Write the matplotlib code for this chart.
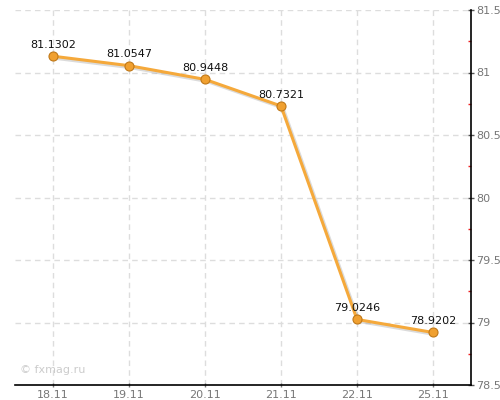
import matplotlib
matplotlib.use("Agg")
import matplotlib.pyplot as plt
import matplotlib.patheffects as pe
from matplotlib.ticker import MultipleLocator

dates = ["18.11", "19.11", "20.11", "21.11", "22.11", "25.11"]
values = [81.1302, 81.0547, 80.9448, 80.7321, 79.0246, 78.9202]
labels = ["81.1302", "81.0547", "80.9448", "80.7321", "79.0246", "78.9202"]

fig = plt.figure(figsize=(5, 4), dpi=100)
ax = fig.add_axes([0.03, 0.0375, 0.912, 0.9375])

x = list(range(len(dates)))
line_color = "#F5A93B"
ax.plot(x, values, color=line_color, lw=2.2, zorder=3,
        path_effects=[pe.SimpleLineShadow(offset=(1.5, -1.5), shadow_color="#999999", alpha=0.35),
                      pe.Normal()])
ax.plot(x, values, linestyle="none", marker="o", ms=6.5, mfc="#F0A030", mec="#C07818",
        mew=0.8, zorder=4)
for xi, v, lab in zip(x, values, labels):
    ax.annotate(lab, (xi, v), xytext=(0, 4.5), textcoords="offset points",
                ha="center", va="bottom", fontsize=8, color="#111111", zorder=5)

ax.set_xlim(-0.5, 5.5)
ax.set_ylim(78.5, 81.5)
ax.set_xticks(x)
ax.set_xticklabels(dates)
ax.yaxis.tick_right()
ax.yaxis.set_minor_locator(MultipleLocator(0.25))
ax.set_yticks([78.5, 79, 79.5, 80, 80.5, 81, 81.5])
ax.set_yticklabels(["78.5", "79", "79.5", "80", "80.5", "81", "81.5"])
ax.tick_params(axis="y", which="major", length=4, width=1, color="#555555",
               labelcolor="#777777", labelsize=8, pad=2, direction="inout")
ax.tick_params(axis="y", which="minor", length=2.5, width=1, color="#EE2222", direction="in")
ax.tick_params(axis="x", length=3, width=1, color="#777777", labelcolor="#777777",
               labelsize=8, pad=2, direction="inout")

for s in ["left", "top"]:
    ax.spines[s].set_visible(False)
for s in ["right", "bottom"]:
    ax.spines[s].set_color("#000000")
    ax.spines[s].set_linewidth(1.2)

ax.grid(True, which="major", color="#DDDDDD", linestyle=(0, (4, 3)), linewidth=1)
ax.set_axisbelow(True)

ax.text(0.01, 0.04, "© fxmag.ru", transform=ax.transAxes, fontsize=8,
        color="#CCCCCC", ha="left", va="center")

fig.savefig("out.png", dpi=100)
